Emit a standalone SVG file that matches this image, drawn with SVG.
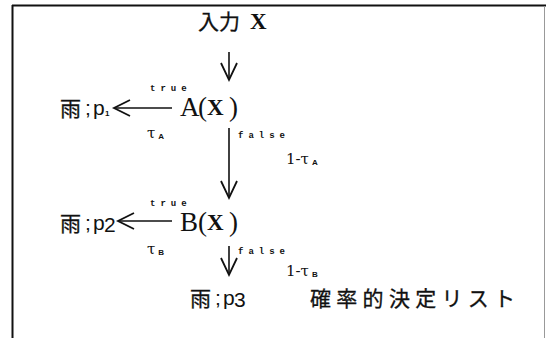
<svg xmlns="http://www.w3.org/2000/svg" width="546" height="338" viewBox="0 0 546 338">
<style>
.cjk{font-family:"Noto Sans CJK JP","Liberation Sans",sans-serif;font-size:21px;fill:#111;stroke:#111;stroke-width:0.3}
.mn{font-family:"Liberation Serif",serif;font-size:27px;fill:#111}
.bx{font-family:"Liberation Serif",serif;font-weight:bold;font-size:23px;fill:#111}
.sm{font-family:"Liberation Mono",monospace;font-size:9px;font-weight:bold;letter-spacing:5px;fill:#111}
.tau{font-family:"DejaVu Serif",serif;font-size:15px;fill:#111}
.sub{font-family:"Liberation Sans",sans-serif;font-size:8px;font-weight:bold;fill:#111}
.p{font-family:"Liberation Sans",sans-serif;font-size:21px;fill:#111}
.ln{stroke:#111;stroke-width:1.6;fill:none}
.hd{stroke:#111;stroke-width:1.8;fill:none;stroke-linejoin:miter}
</style>
<rect x="0" y="0" width="546" height="338" fill="#fff"/>
<g id="frame">
<line x1="12" y1="5.5" x2="546" y2="5.5" stroke="#111" stroke-width="2"/>
<line x1="12.5" y1="5" x2="12.5" y2="338" stroke="#111" stroke-width="2"/>
<line x1="544.5" y1="6" x2="544.5" y2="338" stroke="#999" stroke-width="1"/>
</g>
<g id="input">
<text class="cjk" x="198" y="29">入力</text>
<text class="bx" x="250" y="29">X</text>
</g>
<g id="nodeA">
<text class="mn" x="180" y="116">A</text>
<text class="mn" x="198" y="116">(</text>
<text class="bx" x="207" y="115">X</text>
<text class="mn" x="229" y="116">)</text>
</g>
<g id="rainP1">
<text class="cjk" x="60" y="116">雨</text>
<text class="p" x="85" y="115">;</text>
<text class="p" x="93" y="115">p</text>
<text class="sub" x="105" y="116" font-size="11">1</text>
</g>
<g id="nodeB">
<text class="mn" x="180" y="231">B</text>
<text class="mn" x="198" y="231">(</text>
<text class="bx" x="207" y="230">X</text>
<text class="mn" x="229" y="231">)</text>
</g>
<g id="rainP2">
<text class="cjk" x="60" y="231">雨</text>
<text class="p" x="85" y="230">;</text>
<text class="p" x="93" y="230">p</text>
<text class="p" x="104" y="232" font-size="14">2</text>
</g>
<g id="rainP3">
<text class="cjk" x="190" y="306">雨</text>
<text class="p" x="215" y="305">;</text>
<text class="p" x="223" y="305">p</text>
<text class="p" x="234" y="307" font-size="14">3</text>
</g>
<g id="listTitle">
<text class="cjk" x="310" y="306" letter-spacing="5.3">確率的決定リスト</text>
</g>
<g id="connectors">
<line class="ln" x1="229" y1="52" x2="229" y2="79"/>
<polyline class="hd" points="221,63 229,80 237,63"/>
<line class="ln" x1="114" y1="108" x2="172" y2="108"/>
<polyline class="hd" points="130,100 114,108 130,116"/>
<line class="ln" x1="229" y1="128" x2="229" y2="198"/>
<polyline class="hd" points="221,181 229,198 237,181"/>
<line class="ln" x1="118" y1="221" x2="172" y2="221"/>
<polyline class="hd" points="134,213 118,221 134,229"/>
<line class="ln" x1="229" y1="246" x2="229" y2="274"/>
<polyline class="hd" points="221,258 229,275 237,258"/>
<text class="sm" x="150" y="91">true</text>
<text class="sm" x="150" y="206">true</text>
<text class="sm" x="238" y="138">false</text>
<text class="sm" x="238" y="254">false</text>
<text class="tau" x="147" y="138">τ<tspan class="sub" dx="3" dy="1">A</tspan></text>
<text class="tau" x="147" y="254">τ<tspan class="sub" dx="3" dy="1">B</tspan></text>
<text class="tau" x="286" y="164">1-τ<tspan class="sub" dx="3" dy="1">A</tspan></text>
<text class="tau" x="286" y="276">1-τ<tspan class="sub" dx="3" dy="1">B</tspan></text>
</g>
</svg>
